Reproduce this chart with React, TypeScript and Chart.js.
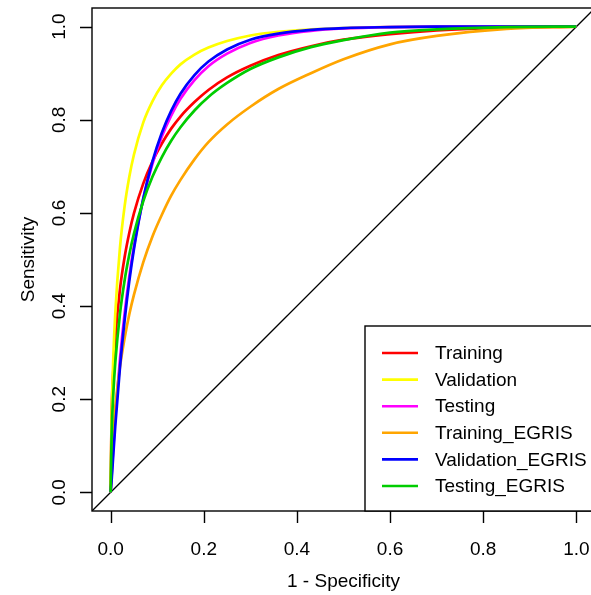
import React, { useEffect, useRef } from "react";
import { Chart, registerables } from "chart.js";
Chart.register(...registerables);

// ---- data ----
const legendLabels = ["Training", "Validation", "Testing", "Training_EGRIS", "Validation_EGRIS", "Testing_EGRIS"];
const seriesColors = ["#FF0000", "#FFFF00", "#FF00FF", "#FFA500", "#0000FF", "#00CD00"];

const xTicks = [0, 0.2, 0.4, 0.6, 0.8, 1.0];
const xTickLabels = ["0.0", "0.2", "0.4", "0.6", "0.8", "1.0"];
const yTicks = [0, 0.2, 0.4, 0.6, 0.8, 1.0];
const yTickLabels = ["0.0", "0.2", "0.4", "0.6", "0.8", "1.0"];
const xTitle = "1 - Specificity";
const yTitle = "Sensitivity";

// 1 - specificity positions at which the sensitivities were read
const fpr = [0, 0.002, 0.006, 0.01, 0.02, 0.03, 0.04, 0.05, 0.07, 0.09, 0.11, 0.13, 0.15, 0.18, 0.21, 0.25, 0.30, 0.36, 0.43, 0.5, 0.6, 0.7, 0.85, 1];

const training = [0, 0.160, 0.266, 0.331, 0.436, 0.505, 0.557, 0.599, 0.663, 0.711, 0.749, 0.781, 0.807, 0.838, 0.864, 0.891, 0.916, 0.939, 0.958, 0.972, 0.984, 0.992, 0.998, 1];
const validation = [0, 0.155, 0.296, 0.385, 0.525, 0.614, 0.677, 0.725, 0.794, 0.840, 0.874, 0.899, 0.919, 0.940, 0.955, 0.969, 0.981, 0.989, 0.994, 0.997, 0.999, 1, 1, 1];
const testing = [0, 0.033, 0.101, 0.162, 0.286, 0.384, 0.463, 0.528, 0.630, 0.706, 0.764, 0.809, 0.845, 0.885, 0.915, 0.942, 0.965, 0.981, 0.991, 0.996, 0.999, 1, 1, 1];
const trainingEgris = [0, 0.070, 0.137, 0.184, 0.269, 0.331, 0.382, 0.424, 0.494, 0.550, 0.596, 0.637, 0.671, 0.715, 0.752, 0.790, 0.828, 0.866, 0.900, 0.930, 0.962, 0.980, 0.995, 1];
const validationEgris = [0, 0.024, 0.085, 0.143, 0.268, 0.369, 0.453, 0.522, 0.631, 0.711, 0.772, 0.819, 0.856, 0.896, 0.925, 0.951, 0.972, 0.985, 0.993, 0.997, 0.999, 1, 1, 1];
const testingEgris = [0, 0.120, 0.216, 0.279, 0.383, 0.455, 0.510, 0.555, 0.625, 0.678, 0.720, 0.755, 0.784, 0.820, 0.849, 0.879, 0.909, 0.934, 0.956, 0.971, 0.987, 0.994, 0.999, 1];

const diagonalX = [-0.1, 1.1];
const diagonalY = [-0.1, 1.1];

const seriesY = [training, validation, testing, trainingEgris, validationEgris, testingEgris];

const FONT = "19px 'Liberation Sans', Arial, sans-serif";

const toPoints = (xs: number[], ys: number[]) => xs.map((x, i) => ({ x, y: ys[i] }));

const rAxesPlugin = {
  id: "rAxes",
  afterDraw(chart: any) {
    const ctx = chart.ctx;
    const area = chart.chartArea;
    const xs = chart.scales.x;
    const ys = chart.scales.y;
    ctx.save();
    ctx.strokeStyle = "#000";
    ctx.fillStyle = "#000";
    ctx.lineWidth = 1.4;
    // box
    ctx.strokeRect(area.left, area.top, area.right - area.left, area.bottom - area.top);
    ctx.font = FONT;
    // x axis ticks
    const tickLen = 12;
    ctx.beginPath();
    xTicks.forEach((v) => {
      const px = Math.round(xs.getPixelForValue(v)) + 0.5;
      ctx.moveTo(px, area.bottom);
      ctx.lineTo(px, area.bottom + tickLen);
    });
    ctx.stroke();
    ctx.textAlign = "center";
    ctx.textBaseline = "alphabetic";
    xTicks.forEach((v, i) => {
      ctx.fillText(xTickLabels[i], xs.getPixelForValue(v), area.bottom + 44);
    });
    // y axis ticks
    ctx.beginPath();
    yTicks.forEach((v) => {
      const py = Math.round(ys.getPixelForValue(v)) + 0.5;
      ctx.moveTo(area.left, py);
      ctx.lineTo(area.left - tickLen, py);
    });
    ctx.stroke();
    yTicks.forEach((v, i) => {
      ctx.save();
      ctx.translate(area.left - 27, ys.getPixelForValue(v));
      ctx.rotate(-Math.PI / 2);
      ctx.textAlign = "center";
      ctx.fillText(yTickLabels[i], 0, 0);
      ctx.restore();
    });
    // titles
    ctx.textAlign = "center";
    ctx.fillText(xTitle, (xs.getPixelForValue(0) + xs.getPixelForValue(1)) / 2, area.bottom + 76);
    ctx.save();
    ctx.translate(34, (ys.getPixelForValue(0) + ys.getPixelForValue(1)) / 2);
    ctx.rotate(-Math.PI / 2);
    ctx.fillText(yTitle, 0, 0);
    ctx.restore();

    // legend (bottom right)
    const lx = 365;
    const ly = 326;
    ctx.fillStyle = "#fff";
    ctx.fillRect(lx, ly, area.right - lx, area.bottom - ly);
    ctx.strokeRect(lx, ly, area.right - lx, area.bottom - ly);
    ctx.textAlign = "left";
    ctx.textBaseline = "middle";
    legendLabels.forEach((lab, i) => {
      const y = 353 + i * 26.6;
      ctx.strokeStyle = seriesColors[i];
      ctx.lineWidth = 2.6;
      ctx.beginPath();
      ctx.moveTo(382, y);
      ctx.lineTo(418, y);
      ctx.stroke();
      ctx.fillStyle = "#000";
      ctx.fillText(lab, 435, y + 1);
    });
    ctx.restore();
  },
};

export default function App() {
  const ref = useRef<HTMLCanvasElement>(null);
  useEffect(() => {
    const canvas = ref.current;
    if (!canvas) return;
    const datasets: any[] = seriesY.map((ys, i) => ({
      label: legendLabels[i],
      data: toPoints(fpr, ys),
      borderColor: seriesColors[i],
      backgroundColor: seriesColors[i],
      borderWidth: 2.7,
      pointRadius: 0,
      fill: false,
      cubicInterpolationMode: "monotone",
      order: 10 - i,
      clip: 0,
    }));
    datasets.push({
      label: "diagonal",
      data: toPoints(diagonalX, diagonalY),
      borderColor: "#000",
      borderWidth: 1.3,
      pointRadius: 0,
      fill: false,
      order: 100,
      clip: 0,
    });
    const chart = new Chart(canvas, {
      type: "line",
      data: { datasets },
      options: {
        responsive: false,
        animation: false,
        layout: { padding: { left: 92, right: 5, top: 8, bottom: 84 } },
        plugins: { legend: { display: false }, tooltip: { enabled: false } },
        scales: {
          x: { type: "linear", min: -0.04, max: 1.04, display: false },
          y: { type: "linear", min: -0.04, max: 1.04, display: false },
        },
      },
      plugins: [rAxesPlugin],
    });
    return () => chart.destroy();
  }, []);
  return (
    <div style={{ position: "fixed", left: 0, top: 0, width: 591, height: 595, overflow: "hidden", background: "#fff" }}>
      <canvas ref={ref} width={600} height={595} style={{ width: 600, height: 595, display: "block" }} />
    </div>
  );
}
